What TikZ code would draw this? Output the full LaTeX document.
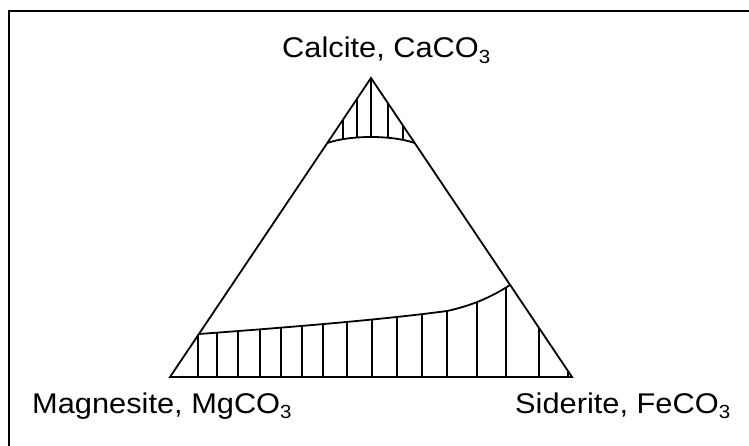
\documentclass[tikz,border=0pt]{standalone}
\usepackage{fontspec}
\setmainfont{Liberation Sans}
\newcommand\chemsub[1]{\raisebox{-0.2em}{\fontsize{19}{19}\selectfont #1}}
\newcommand\lbl[1]{\scalebox{1.08}[1.0]{\fontsize{28.5}{30}\selectfont #1}}
\tikzset{
  edge/.style={line width=1.8pt},
  hatch/.style={line width=1.7pt},
  frameline/.style={line width=2.2pt},
  label/.style={inner sep=0pt, anchor=base west}
}
\begin{document}
\begin{tikzpicture}[x=1pt,y=-1pt]
\useasboundingbox (0,0) rectangle (749,446);
\begin{scope}
\clip (0,0) rectangle (749,446);
\draw[frameline] (9,470) -- (9,11) -- (770,11);
\end{scope}
% vertices
\coordinate (A) at (371,78);
\coordinate (B) at (170,377);
\coordinate (C) at (572,377);
\coordinate (capL) at (327.3,143);
\coordinate (capR) at (414.7,143);
\coordinate (bandL) at (199,334);
\coordinate (bandM) at (447,311);
\coordinate (bandR) at (510,285);
% hatching in calcite cap
\begin{scope}
\clip (A) -- (capL) .. controls (350,135) and (392,135) .. (capR) -- cycle;
\foreach \x in {343,357,371,388,403} \draw[hatch] (\x,60) -- (\x,160);
\end{scope}
% hatching in bottom band
\begin{scope}
\clip (B) -- (bandL) .. controls (280,328) and (380,320) .. (bandM)
      .. controls (470,306) and (490,298) .. (bandR) -- (C) -- cycle;
\foreach \x in {198,217,238,260,281,302,323,347,372,397,422,447,477,506,539,568}
  \draw[hatch] (\x,270) -- (\x,380);
\end{scope}
% curves
\draw[edge] (capL) .. controls (350,135) and (392,135) .. (capR);
\draw[edge] (bandL) .. controls (280,328) and (380,320) .. (bandM)
      .. controls (470,306) and (490,298) .. (bandR);
% triangle
\draw[edge, line join=miter] (A) -- (B) -- (C) -- cycle;
% labels
\node[label] (ca) at (282,58) {\lbl{Calcite, CaCO\chemsub{3}}};
\node[label] (mg) at (32,413) {\lbl{Magnesite, MgCO\chemsub{3}}};
\node[label] (fe) at (515,413) {\lbl{Siderite, FeCO\chemsub{3}}};
\end{tikzpicture}
\end{document}
